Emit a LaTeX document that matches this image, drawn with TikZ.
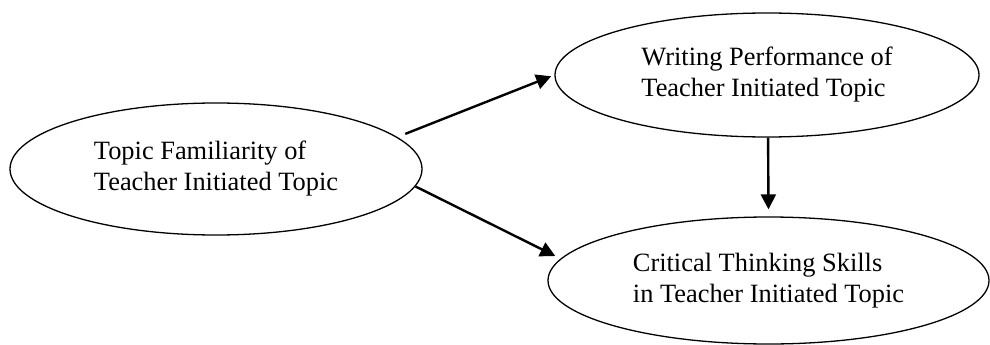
\documentclass[tikz,border=0pt]{standalone}
\usepackage{fontspec}
\setmainfont{Liberation Serif}
\usetikzlibrary{shapes.geometric,arrows.meta}
\tikzset{
  oval/.style={ellipse, draw, line width=1.3pt, inner sep=0pt, align=left,
    font=\fontsize{26.4}{31}\selectfont},
  arr/.style={line width=2.4pt, -{Triangle[length=15pt,width=15pt]}}
}
\begin{document}
\begin{tikzpicture}[x=1pt,y=-1pt]
\useasboundingbox (0,0) rectangle (990,345);
\node[oval, minimum width=412pt, minimum height=132pt] (L) at (216,169)
  {Topic Familiarity of\\Teacher Initiated Topic};
\node[oval, minimum width=424pt, minimum height=124pt] (T) at (767,75)
  {Writing Performance of\\Teacher Initiated Topic};
\node[oval, minimum width=441pt, minimum height=127pt] (B) at (768.5,280.5)
  {Critical Thinking Skills\\in Teacher Initiated Topic};
\draw[arr, shorten <=8.5pt, shorten >=3.4pt] (L.10.5) -- (T.180.5);
\draw[arr, shorten >=5.9pt] (L.-5.8) -- (B.174.26);
\draw[arr, shorten >=7pt] (T.-89.08) -- (B.90.45);
\end{tikzpicture}
\end{document}
